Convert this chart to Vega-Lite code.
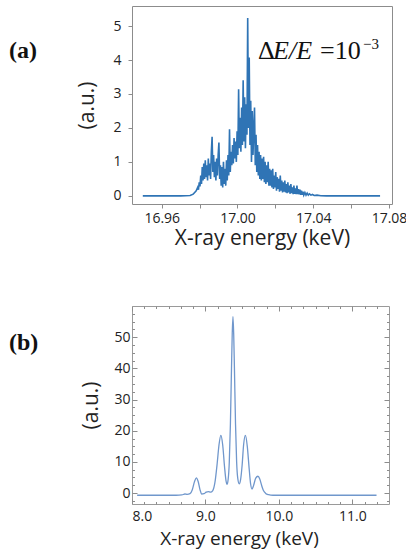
{
  "$schema": "https://vega.github.io/schema/vega-lite/v6.json",
  "background": "white",
  "padding": {"left": 8, "top": 5, "right": 0, "bottom": 0},
  "spacing": 56,
  "config": {
    "axis": {"labelFont": "Open Sans", "labelFontSize": 14, "labelColor": "#222222", "labelOverlap": false, "titleFont": "Open Sans", "titleFontSize": 21, "titleFontWeight": "normal", "titleColor": "#222222", "tickColor": "#8c8c8c", "domain": false, "grid": false}
  },
  "vconcat": [
    {
      "width": 260,
      "height": 198,
      "view": {"stroke": "#8c8c8c", "strokeWidth": 1},
      "resolve": {"axis": {"x": "independent", "y": "independent"}},
      "layer": [
        {
          "data": {"values": [
            {"e":16.95,"v":0},{"e":16.97,"v":0},{"e":16.975,"v":0.01},{"e":16.9766,"v":0.05},{"e":16.9774,"v":0.1},{"e":16.9782,"v":0.15},{"e":16.979,"v":0.25},{"e":16.9794,"v":0.18},{"e":16.9798,"v":0.4},{"e":16.9802,"v":0.28},{"e":16.9806,"v":0.6},{"e":16.981,"v":0.35},{"e":16.9814,"v":0.85},{"e":16.9818,"v":0.45},{"e":16.9822,"v":0.95},{"e":16.9826,"v":0.5},{"e":16.983,"v":1.05},{"e":16.9834,"v":0.55},{"e":16.9838,"v":0.9},{"e":16.9842,"v":0.45},{"e":16.9846,"v":1.1},{"e":16.985,"v":0.6},{"e":16.9854,"v":0.95},{"e":16.9858,"v":0.5},{"e":16.9862,"v":1.3},{"e":16.9866,"v":1.74},{"e":16.987,"v":0.7},{"e":16.9874,"v":1.2},{"e":16.9878,"v":0.55},{"e":16.9882,"v":1.0},{"e":16.9886,"v":0.45},{"e":16.989,"v":1.1},{"e":16.9894,"v":0.6},{"e":16.9898,"v":1.2},{"e":16.9902,"v":1.57},{"e":16.9906,"v":0.5},{"e":16.991,"v":0.9},{"e":16.9914,"v":0.3},{"e":16.9918,"v":0.85},{"e":16.9922,"v":0.25},{"e":16.9926,"v":1.0},{"e":16.993,"v":0.35},{"e":16.9934,"v":0.8},{"e":16.9938,"v":0.3},{"e":16.9942,"v":1.05},{"e":16.9946,"v":0.45},{"e":16.995,"v":1.2},{"e":16.9954,"v":0.6},{"e":16.9958,"v":1.96},{"e":16.9962,"v":0.7},{"e":16.9966,"v":1.3},{"e":16.997,"v":0.9},{"e":16.9974,"v":1.5},{"e":16.9978,"v":0.95},{"e":16.9982,"v":1.7},{"e":16.9986,"v":1.1},{"e":16.999,"v":1.6},{"e":16.9994,"v":1.0},{"e":16.9998,"v":1.9},{"e":17.0002,"v":1.2},{"e":17.0006,"v":3.14},{"e":17.001,"v":1.4},{"e":17.0014,"v":2.3},{"e":17.0018,"v":1.3},{"e":17.0022,"v":2.6},{"e":17.0026,"v":1.5},{"e":17.003,"v":3.4},{"e":17.0034,"v":1.6},{"e":17.0038,"v":2.9},{"e":17.0042,"v":1.4},{"e":17.0046,"v":2.7},{"e":17.005,"v":1.8},{"e":17.0054,"v":5.24},{"e":17.0058,"v":2.0},{"e":17.0062,"v":4.07},{"e":17.0066,"v":1.5},{"e":17.007,"v":2.8},{"e":17.0074,"v":1.0},{"e":17.0078,"v":2.5},{"e":17.0082,"v":1.2},{"e":17.0086,"v":2.0},{"e":17.009,"v":2.6},{"e":17.0094,"v":0.9},{"e":17.0098,"v":1.8},{"e":17.0102,"v":0.7},{"e":17.0106,"v":1.5},{"e":17.011,"v":0.6},{"e":17.0114,"v":1.3},{"e":17.0118,"v":0.5},{"e":17.0122,"v":1.2},{"e":17.0126,"v":0.45},{"e":17.013,"v":1.1},{"e":17.0134,"v":0.5},{"e":17.0138,"v":1.15},{"e":17.0142,"v":0.4},{"e":17.0146,"v":1.0},{"e":17.015,"v":0.35},{"e":17.0154,"v":0.9},{"e":17.0158,"v":0.4},{"e":17.0162,"v":1.0},{"e":17.0166,"v":0.3},{"e":17.017,"v":0.8},{"e":17.0174,"v":0.3},{"e":17.0178,"v":0.75},{"e":17.0182,"v":0.25},{"e":17.0186,"v":0.8},{"e":17.019,"v":0.2},{"e":17.0194,"v":0.6},{"e":17.0198,"v":0.25},{"e":17.0202,"v":0.7},{"e":17.0206,"v":0.15},{"e":17.021,"v":0.55},{"e":17.0214,"v":0.2},{"e":17.0218,"v":0.5},{"e":17.0222,"v":0.12},{"e":17.0226,"v":0.6},{"e":17.023,"v":0.15},{"e":17.0234,"v":0.45},{"e":17.0238,"v":0.1},{"e":17.0242,"v":0.4},{"e":17.0246,"v":0.12},{"e":17.025,"v":0.45},{"e":17.0254,"v":0.1},{"e":17.0258,"v":0.35},{"e":17.0262,"v":0.08},{"e":17.0266,"v":0.4},{"e":17.027,"v":0.1},{"e":17.0274,"v":0.3},{"e":17.0278,"v":0.06},{"e":17.0282,"v":0.35},{"e":17.0286,"v":0.08},{"e":17.029,"v":0.25},{"e":17.0294,"v":0.05},{"e":17.0298,"v":0.3},{"e":17.0302,"v":0.06},{"e":17.0306,"v":0.22},{"e":17.031,"v":0.05},{"e":17.0314,"v":0.3},{"e":17.0318,"v":0.05},{"e":17.0322,"v":0.2},{"e":17.0326,"v":0.04},{"e":17.033,"v":0.18},{"e":17.0334,"v":0.03},{"e":17.0338,"v":0.15},{"e":17.0342,"v":0.03},{"e":17.0346,"v":0.12},{"e":17.035,"v":0.02},{"e":17.0356,"v":0.1},{"e":17.0362,"v":0.02},{"e":17.0368,"v":0.08},{"e":17.0374,"v":0.02},{"e":17.038,"v":0.06},{"e":17.0388,"v":0.02},{"e":17.0396,"v":0.04},{"e":17.0405,"v":0.01},{"e":17.042,"v":0.02},{"e":17.044,"v":0.005},{"e":17.047,"v":0},{"e":17.0753,"v":0}
          ]},
          "mark": {"type": "line", "color": "#2f74b5", "strokeWidth": 1.6},
          "encoding": {
            "x": {"field": "e", "type": "quantitative", "scale": {"domain": [16.9443, 17.0816], "nice": false, "zero": false},
              "axis": {"orient": "bottom", "values": [16.96, 16.98, 17.0, 17.02, 17.04, 17.06, 17.08], "format": ".2f", "labelExpr": "abs(datum.value/0.04 - round(datum.value/0.04)) < 0.01 ? datum.label : ''", "labelOverlap": false, "labelDx": -2, "tickSize": 4, "labelPadding": 3, "title": "X-ray energy (keV)", "titlePadding": 2}},
            "y": {"field": "v", "type": "quantitative", "scale": {"domain": [-0.24, 5.59], "nice": false, "zero": false},
              "axis": {"orient": "left", "values": [0, 1, 2, 3, 4, 5], "format": "d", "labelOverlap": false, "tickSize": 4, "labelPadding": 7, "title": "(a.u.)", "titlePadding": 15}}
          }
        },
        {
          "data": {"values": [{"e": 16.8793, "v": 4.265, "t": "(a)"}]},
          "mark": {"type": "text", "font": "Liberation Serif", "fontWeight": "bold", "fontSize": 24, "align": "left", "baseline": "middle", "color": "#111111"},
          "encoding": {"x": {"field": "e", "type": "quantitative", "axis": null}, "y": {"field": "v", "type": "quantitative", "axis": null}, "text": {"field": "t"}}
        },
        {
          "data": {"values": [{"e": 17.0108, "v": 4.04, "t": "Δ"}]},
          "mark": {"type": "text", "font": "Liberation Serif", "fontSize": 26, "align": "left", "baseline": "alphabetic", "color": "#111111"},
          "encoding": {"x": {"field": "e", "type": "quantitative", "axis": null}, "y": {"field": "v", "type": "quantitative", "axis": null}, "text": {"field": "t"}}
        },
        {
          "data": {"values": [{"e": 17.0188, "v": 4.04, "t": "E/E"}]},
          "mark": {"type": "text", "font": "Liberation Serif", "fontStyle": "italic", "fontSize": 26, "align": "left", "baseline": "alphabetic", "color": "#111111"},
          "encoding": {"x": {"field": "e", "type": "quantitative", "axis": null}, "y": {"field": "v", "type": "quantitative", "axis": null}, "text": {"field": "t"}}
        },
        {
          "data": {"values": [{"e": 17.0436, "v": 4.04, "t": "=10"}]},
          "mark": {"type": "text", "font": "Liberation Serif", "fontSize": 26, "align": "left", "baseline": "alphabetic", "color": "#111111"},
          "encoding": {"x": {"field": "e", "type": "quantitative", "axis": null}, "y": {"field": "v", "type": "quantitative", "axis": null}, "text": {"field": "t"}}
        },
        {
          "data": {"values": [{"e": 17.0663, "v": 4.32, "t": "−3"}]},
          "mark": {"type": "text", "font": "Liberation Serif", "fontSize": 15, "align": "left", "baseline": "alphabetic", "color": "#111111"},
          "encoding": {"x": {"field": "e", "type": "quantitative", "axis": null}, "y": {"field": "v", "type": "quantitative", "axis": null}, "text": {"field": "t"}}
        }
      ]
    },
    {
      "width": 257,
      "height": 198,
      "view": {"stroke": "#9a9a9a", "strokeWidth": 1},
      "resolve": {"axis": {"x": "independent", "y": "independent"}},
      "layer": [
        {
          "data": {"values": [
            {"e":8.07,"v":-0.7},{"e":8.6,"v":-0.7},{"e":8.68,"v":-0.6},{"e":8.72,"v":-0.3},{"e":8.75,"v":-0.4},{"e":8.79,"v":-0.2},{"e":8.82,"v":1.0},{"e":8.85,"v":3.6},{"e":8.876,"v":4.9},{"e":8.9,"v":3.8},{"e":8.925,"v":1.2},{"e":8.95,"v":-0.3},{"e":8.98,"v":-0.2},{"e":9.01,"v":0.3},{"e":9.04,"v":0.5},{"e":9.07,"v":0.3},{"e":9.1,"v":0.8},{"e":9.13,"v":3.5},{"e":9.16,"v":9.5},{"e":9.185,"v":15.5},{"e":9.21,"v":18.5},{"e":9.235,"v":15.5},{"e":9.26,"v":8.5},{"e":9.28,"v":4.0},{"e":9.295,"v":2.8},{"e":9.31,"v":4.5},{"e":9.325,"v":10},{"e":9.34,"v":22},{"e":9.355,"v":40},{"e":9.365,"v":51},{"e":9.375,"v":56.6},{"e":9.385,"v":51},{"e":9.395,"v":40},{"e":9.41,"v":22},{"e":9.425,"v":10},{"e":9.44,"v":4.8},{"e":9.46,"v":3.0},{"e":9.48,"v":4.5},{"e":9.5,"v":9.0},{"e":9.52,"v":15.5},{"e":9.545,"v":18.5},{"e":9.57,"v":15},{"e":9.595,"v":8},{"e":9.615,"v":3.0},{"e":9.635,"v":1.3},{"e":9.655,"v":2.4},{"e":9.685,"v":4.8},{"e":9.715,"v":5.4},{"e":9.74,"v":4.5},{"e":9.765,"v":2.5},{"e":9.79,"v":0.8},{"e":9.82,"v":-0.1},{"e":9.86,"v":-0.5},{"e":9.92,"v":-0.7},{"e":11.33,"v":-0.7}
          ]},
          "mark": {"type": "line", "color": "#7097cc", "strokeWidth": 1.3, "interpolate": "monotone"},
          "encoding": {
            "x": {"field": "e", "type": "quantitative", "scale": {"domain": [8.0, 11.5], "nice": false, "zero": false},
              "axis": {"orient": "bottom", "values": [8, 8.16667, 8.33333, 8.5, 8.66667, 8.83333, 9, 9.16667, 9.33333, 9.5, 9.66667, 9.83333, 10, 10.16667, 10.33333, 10.5, 10.66667, 10.83333, 11, 11.16667, 11.33333], "format": ".1f", "labelExpr": "abs(datum.value - round(datum.value)) < 0.001 ? datum.label : ''", "labelOverlap": false, "tickSize": {"condition": {"test": "abs(datum.value - round(datum.value)) < 0.001", "value": -5}, "value": -2.5}, "labelPadding": 10, "title": "X-ray energy (keV)", "titleFontSize": 19, "titlePadding": 4, "titleX": 107}},
            "y": {"field": "v", "type": "quantitative", "scale": {"domain": [-3.5, 60], "nice": false, "zero": false},
              "axis": {"orient": "left", "values": [-2.5, 0, 2.5, 5, 7.5, 10, 12.5, 15, 17.5, 20, 22.5, 25, 27.5, 30, 32.5, 35, 37.5, 40, 42.5, 45, 47.5, 50, 52.5, 55, 57.5], "format": "d", "labelExpr": "datum.value % 10 == 0 ? datum.label : ''", "labelOverlap": false, "tickSize": {"condition": {"test": "datum.value % 10 == 0", "value": -5}, "value": -2.5}, "labelPadding": 7, "title": "(a.u.)", "titlePadding": 12}}
          }
        },
        {
          "data": {"values": [{"e": 6.325, "v": 48.0, "t": "(b)"}]},
          "mark": {"type": "text", "font": "Liberation Serif", "fontWeight": "bold", "fontSize": 24, "align": "left", "baseline": "middle", "color": "#111111"},
          "encoding": {
            "x": {"field": "e", "type": "quantitative", "axis": {"orient": "top", "values": [8, 8.16667, 8.33333, 8.5, 8.66667, 8.83333, 9, 9.16667, 9.33333, 9.5, 9.66667, 9.83333, 10, 10.16667, 10.33333, 10.5, 10.66667, 10.83333, 11, 11.16667, 11.33333], "labels": false, "title": null, "tickSize": {"condition": {"test": "abs(datum.value - round(datum.value)) < 0.001", "value": -5}, "value": -2.5}}},
            "y": {"field": "v", "type": "quantitative", "axis": {"orient": "right", "values": [-2.5, 0, 2.5, 5, 7.5, 10, 12.5, 15, 17.5, 20, 22.5, 25, 27.5, 30, 32.5, 35, 37.5, 40, 42.5, 45, 47.5, 50, 52.5, 55, 57.5], "labels": false, "title": null, "tickSize": {"condition": {"test": "datum.value % 10 == 0", "value": -5}, "value": -2.5}}},
            "text": {"field": "t"}
          }
        }
      ]
    }
  ]
}
